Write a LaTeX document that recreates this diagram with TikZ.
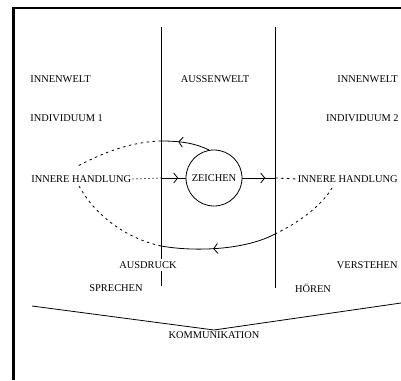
\documentclass[tikz,border=0pt]{standalone}
\usepackage{fontspec}
\setmainfont{Liberation Serif}
\usetikzlibrary{arrows.meta,decorations.markings}

\begin{document}
\begin{tikzpicture}[x=1pt, y=-1pt, line width=0.8pt,
        txt/.style={inner sep=1pt, font=\fontsize{10.4}{12}\selectfont},
        dsh/.style={dash pattern=on 2.5pt off 3.5pt},
        dts/.style={dash pattern=on 1.2pt off 2.8pt},
        tipat/.style={decoration={markings, mark=at position #1 with {\arrow{Straight Barb[length=4pt,width=10pt]}}}, postaction={decorate}}]
        \useasboundingbox (0,0) rectangle (401,380);
        % frame
        \draw [line width=2.5pt] (13.5,380) -- (13.5,8) -- (401,8);

        % the two borders of the outer world
        \coordinate (ltop) at (161,27);
        \coordinate (lend) at (161,286);
        \coordinate (rtop) at (275,27);
        \coordinate (rend) at (275,288);
        \draw (ltop) -- (lend);
        \draw (rtop) -- (rend);

        \node (inw1) at (29,79) [txt, anchor=west] {INNENWELT};
        \node (ausw) at (215,79) [txt] {AUSSENWELT};
        \node (inw2) at (399,79) [txt, anchor=east] {INNENWELT};
        \node (ind1) at (29,118) [txt, anchor=west] {INDIVIDUUM 1};
        \node (ind2) at (400,118) [txt, anchor=east] {INDIVIDUUM 2};
        \node (hand1) at (30,179) [txt, anchor=west] {INNERE HANDLUNG};
        \node (hand2) at (399,179) [txt, anchor=east] {INNERE HANDLUNG};
        \node (zeichen) at (214,178) [txt, draw, circle, minimum size=56pt, inner sep=0pt] {ZEICHEN};
        \node (ausdruck) at (148,265) [txt, fill=white, inner sep=3pt] {AUSDRUCK};
        \node (verstehen) at (399,265) [txt, anchor=east] {VERSTEHEN};
        \node (sprechen) at (116,288) [txt] {SPRECHEN};
        \node (hoeren) at (313,288) [txt] {HÖREN};
        \node (komm) at (214,335) [txt] {KOMMUNIKATION};

        \coordinate (lmid) at (161,178);
        \coordinate (rmid) at (275,178);
        \coordinate (lup) at (161,141);
        \coordinate (lbot) at (161,246);
        \coordinate (rbot) at (275,234);
        \coordinate (h1up) at (76,167);
        \coordinate (h1dn) at (79,186);
        \coordinate (h2dn) at (332,188);

        % straight way through the sign
        \draw [dts] (hand1.east) -- (lmid);
        \draw [tipat=0.7] (lmid) -- (zeichen.west);
        \draw [tipat=0.7] (zeichen.east) -- (rmid);
        \draw [dsh] (rmid) -- (hand2.west);

        % upper loop
        \draw [tipat=0.65] (zeichen.100) .. controls (195,143) and (180,141) .. (lup);
        \draw [dsh] (lup) .. controls (125,142) and (95,157) .. (h1up);

        % lower loop
        \draw [dsh] (h1dn) .. controls (95,215) and (125,238) .. (lbot);
        \draw [tipat=0.55] (rbot) .. controls (245,250) and (195,252) .. (lbot);
        \draw [dsh] (rbot) .. controls (300,222) and (322,205) .. (h2dn);

        % speaking and hearing
        \coordinate (vl) at (32,306);
        \coordinate (vm) at (214,330);
        \coordinate (vr) at (401,303);
        \draw (vl) -- (vm) -- (vr);
\end{tikzpicture}
\end{document}
